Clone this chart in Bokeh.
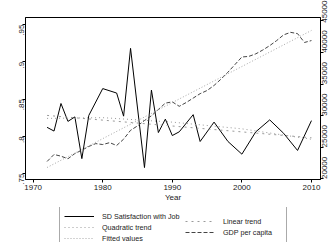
import math
from bokeh.plotting import figure
from bokeh.layouts import column
from bokeh.models import Range1d, LinearAxis, FixedTicker, Legend, LegendItem
from bokeh.embed import file_html
from bokeh.resources import INLINE

# ---- data ----
sd_years = [1972, 1973, 1974, 1975, 1976, 1977, 1978, 1980, 1982, 1983, 1984, 1986, 1987,
            1988, 1989, 1990, 1991, 1993, 1994, 1996, 1998, 2000, 2002, 2004, 2006, 2008, 2010]
sd_values = [0.812, 0.807, 0.844, 0.820, 0.826, 0.770, 0.828, 0.864, 0.858, 0.827, 0.918, 0.758, 0.862,
             0.805, 0.823, 0.801, 0.806, 0.829, 0.793, 0.819, 0.793, 0.776, 0.806, 0.822, 0.804, 0.781, 0.821]

linear_years = [1972, 2010]
linear_values = [0.828, 0.798]

quad_years = [1972, 1980, 1990, 2000, 2010]
quad_values = [0.824, 0.825, 0.819, 0.810, 0.796]

gdp_years = list(range(1972, 2011))
gdp_values = [22770, 23880, 23610, 23200, 24030, 24550, 25150, 25600, 25450, 25750,
              25300, 26300, 27700, 28400, 29250, 30000, 31000, 32000, 32200, 31500,
              32100, 32800, 33500, 34000, 34800, 35800, 36900, 38100, 39300, 39400,
              39800, 40400, 41100, 41900, 42800, 43200, 43000, 41600, 41900]

fitted_years = [1972, 2010]
fitted_values = [21820, 43500]

x_ticks = [1970, 1980, 1990, 2000, 2010]
left_ticks = [0.75, 0.8, 0.85, 0.9, 0.95]
left_tick_labels = [".75", ".8", ".85", ".9", ".95"]
right_ticks = [20000, 25000, 30000, 35000, 40000, 45000]

FONT = "Liberation Sans"

STYLES = {
    "sd": dict(line_color="black", line_width=1),
    "lin": dict(line_color="#9a9a9a", line_width=1, line_dash="2 4"),
    "quad": dict(line_color="#9a9a9a", line_width=1, line_dash="1 3"),
    "gdp": dict(line_color="#444444", line_width=1, line_dash="4 2"),
    "fit": dict(line_color="#a8a8a8", line_width=1, line_dash="1 2"),
}

p = figure(frame_width=295, frame_height=162, output_backend="svg", toolbar_location=None,
           x_range=Range1d(1968.9, 2011.3), y_range=Range1d(0.742, 0.9594),
           min_border_left=25, min_border_right=11, min_border_top=17, min_border_bottom=28)
p.extra_y_ranges = {"gdp": Range1d(19920, 45550)}

p.xgrid.visible = False
p.ygrid.visible = False
p.outline_line_color = "black"
p.outline_line_width = 1
p.background_fill_color = "white"
p.border_fill_color = "white"

p.line(sd_years, sd_values, **STYLES["sd"])
p.line(linear_years, linear_values, **STYLES["lin"])
p.line(quad_years, quad_values, **STYLES["quad"])
p.line(gdp_years, gdp_values, y_range_name="gdp", **STYLES["gdp"])
p.line(fitted_years, fitted_values, y_range_name="gdp", **STYLES["fit"])

def style_axis(ax):
    ax.axis_line_color = "black"
    ax.major_tick_line_color = "black"
    ax.major_tick_out = 3
    ax.major_tick_in = 0
    ax.minor_tick_line_color = None
    ax.major_label_text_font = FONT
    ax.major_label_text_font_size = "8px"
    ax.major_label_text_color = "#222222"
    ax.major_label_standoff = 2
    ax.axis_label_text_font = FONT
    ax.axis_label_text_font_size = "8px"
    ax.axis_label_text_font_style = "normal"
    ax.axis_label_text_color = "#222222"

xa = p.xaxis[0]
xa.ticker = FixedTicker(ticks=x_ticks)
xa.axis_label = "Year"
xa.axis_label_standoff = 0
style_axis(xa)

ya = p.yaxis[0]
ya.ticker = FixedTicker(ticks=left_ticks)
ya.major_label_overrides = dict(zip(left_ticks, left_tick_labels))
ya.major_label_orientation = math.pi / 2
style_axis(ya)
ya.major_label_standoff = 1

ra = LinearAxis(y_range_name="gdp", ticker=FixedTicker(ticks=right_ticks))
ra.major_label_orientation = math.pi / 2
style_axis(ra)
ra.major_label_standoff = 1
p.add_layout(ra, "right")

# ---- legend figure below the plot (its frame is aligned with the plot's frame) ----
q = figure(width=331, height=35, output_backend="svg", toolbar_location=None,
           x_range=Range1d(0, 1), y_range=Range1d(0, 1),
           x_axis_location=None, y_axis_location=None,
           min_border_left=0, min_border_right=0, min_border_top=0, min_border_bottom=0)
q.xgrid.visible = False
q.ygrid.visible = False
q.outline_line_color = None
q.border_fill_color = "white"
q.background_fill_color = "white"

# legend-only renderers, kept outside the visible range
g = {k: q.line([-2, -1], [-2, -1], **v) for k, v in STYLES.items()}

def style_legend(lg):
    lg.label_text_font = FONT
    lg.label_text_font_size = "7.2px"
    lg.label_text_color = "#222222"
    lg.glyph_width = 30
    lg.glyph_height = 10
    lg.label_height = 10
    lg.label_standoff = 8
    lg.spacing = 1
    lg.padding = 4
    lg.margin = 0

leg_a = Legend(items=[
    LegendItem(label="SD Satisfaction with Job", renderers=[g["sd"]]),
    LegendItem(label="Quadratic trend", renderers=[g["quad"]]),
    LegendItem(label="Fitted values", renderers=[g["fit"]]),
], location=(34, -6))
style_legend(leg_a)
leg_a.label_width = 180
leg_a.border_line_color = "#555555"
leg_a.border_line_width = 1
leg_a.background_fill_color = "white"
leg_a.background_fill_alpha = 1

leg_b = Legend(items=[
    LegendItem(label="Linear trend", renderers=[g["lin"]]),
    LegendItem(label="GDP per capita", renderers=[g["gdp"]]),
], location=(160, 5))
style_legend(leg_b)
leg_b.border_line_color = None
leg_b.background_fill_alpha = 0

q.add_layout(leg_a)
q.add_layout(leg_b)

layout = column(p, q, spacing=0)
open("out.html", "w").write(file_html(layout, INLINE))
